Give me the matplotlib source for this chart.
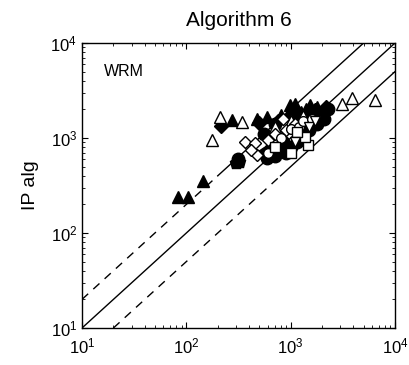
import numpy as np
import matplotlib
matplotlib.use("Agg")
import matplotlib.pyplot as plt
from matplotlib.ticker import LogLocator, FuncFormatter

plt.rcParams['font.family'] = ['Liberation Sans', 'DejaVu Sans']
plt.rcParams['mathtext.fontset'] = 'custom'
plt.rcParams['mathtext.rm'] = 'Liberation Sans'

title = "Algorithm 6"
panel_label = "WRM"
y_label = "IP alg"
axis_limits = (10, 1e4)

# reference lines y = k * x
line_factors = [2.0, 1.0, 0.5]

# (x, y) pairs per marker group
tri_filled_x = [83, 104, 145, 274, 476, 594, 800, 987, 1535, 1800, 1250, 1100, 1400]
tri_filled_y = [239, 239, 350, 1550, 1600, 1650, 1750, 2200, 2200, 2100, 1900, 2300, 2000]
tri_open_x = [176, 210, 342, 3100, 3900, 6400, 700, 1000, 1300]
tri_open_y = [950, 1650, 1480, 2280, 2640, 2500, 1300, 1500, 1700]
dia_filled_x = [215, 760, 1200, 1700, 2200, 500, 1000]
dia_filled_y = [1350, 1500, 1800, 1950, 2100, 1450, 1650]
dia_open_x = [366, 456, 476, 420, 700, 900, 1100, 850, 600]
dia_open_y = [900, 880, 660, 750, 1100, 1200, 1400, 1600, 950]
circ_filled_x = [313, 594, 1151, 2046, 1800, 900, 1300, 2300, 700, 1500,
                 1000, 1200, 1600, 700, 850, 1000, 1800, 560, 2100]
circ_filled_y = [600, 620, 900, 1880, 1400, 700, 1000, 2000, 650, 1200,
                 1700, 1500, 1700, 1400, 900, 800, 1700, 1100, 1600]
sq_filled_x = [300, 320, 650, 560]
sq_filled_y = [540, 560, 780, 700]
circ_open_x = [1000, 1200, 800, 600, 1300, 1600]
circ_open_y = [1250, 1300, 1000, 700, 1500, 1600]
sq_open_x = [1468, 1374, 1000, 700, 1150]
sq_open_y = [844, 1025, 700, 800, 1150]
tri_down_open_x = [1500, 1100, 1700]
tri_down_open_y = [1300, 900, 1500]

fig = plt.figure(figsize=(4.09, 3.65), dpi=100)
ax = fig.add_axes([0.2005, 0.1014, 0.7653, 0.7808])
ax.set_xscale('log')
ax.set_yscale('log')
ax.set_xlim(*axis_limits)
ax.set_ylim(*axis_limits)

xs = np.array(axis_limits)
# diagonal y = x solid, the factor-of-two lines dashed near the origin
ax.plot(xs, xs * line_factors[1], color='black', lw=1.0, zorder=1)
ax.plot([10, 200], [10 * line_factors[0], 200 * line_factors[0]],
        color='black', lw=1.0, ls=(0, (6, 5)), zorder=1)
ax.plot([200, 1e4 / line_factors[0]], [200 * line_factors[0], 1e4],
        color='black', lw=1.0, zorder=1)
ax.plot([10 / line_factors[2], 800], [10, 800 * line_factors[2]],
        color='black', lw=1.0, ls=(0, (6, 5)), zorder=1)
ax.plot([800, 1e4], [800 * line_factors[2], 1e4 * line_factors[2]],
        color='black', lw=1.0, zorder=1)

ms = 9
kw = dict(ls='none', markersize=ms, markeredgecolor='black', markeredgewidth=1.0, zorder=3)
ax.plot(circ_filled_x, circ_filled_y, marker='o', markerfacecolor='black', **kw)
ax.plot(sq_filled_x, sq_filled_y, marker='p', markerfacecolor='black', **kw)
ax.plot(dia_filled_x, dia_filled_y, marker='D', markerfacecolor='black', markersize=7,
        ls='none', markeredgecolor='black', zorder=3)
ax.plot(tri_filled_x, tri_filled_y, marker='^', markerfacecolor='black', **kw)
ax.plot(dia_open_x, dia_open_y, marker='D', markerfacecolor='white', markersize=6.5,
        ls='none', markeredgecolor='black', zorder=4)
ax.plot(circ_open_x, circ_open_y, marker='o', markerfacecolor='white', markersize=7,
        ls='none', markeredgecolor='black', zorder=4)
ax.plot(sq_open_x, sq_open_y, marker='s', markerfacecolor='white', markersize=7,
        ls='none', markeredgecolor='black', zorder=4)
ax.plot(tri_down_open_x, tri_down_open_y, marker='v', markerfacecolor='white', markersize=7,
        ls='none', markeredgecolor='black', zorder=4)
ax.plot(tri_open_x, tri_open_y, marker='^', markerfacecolor='white', **kw)

ax.xaxis.set_major_locator(LogLocator(base=10, numticks=10))
ax.yaxis.set_major_locator(LogLocator(base=10, numticks=10))
ax.xaxis.set_minor_locator(LogLocator(base=10, subs=np.arange(2, 10), numticks=10))
ax.yaxis.set_minor_locator(LogLocator(base=10, subs=np.arange(2, 10), numticks=10))
fmt = FuncFormatter(lambda v, p: r'$\mathregular{10^{%d}}$' % int(round(np.log10(v))))
ax.xaxis.set_major_formatter(fmt)
ax.yaxis.set_major_formatter(fmt)
ax.tick_params(which='both', direction='in', top=True, right=True, labelsize=12)
ax.tick_params(which='major', length=4, width=0.8)
ax.tick_params(which='minor', length=2, width=0.6)
ax.tick_params(axis='x', pad=6)
for s in ax.spines.values():
    s.set_linewidth(1.0)

ax.set_title(title, fontsize=15, pad=12)
ax.set_ylabel(y_label, fontsize=14, labelpad=8)
ax.text(0.07, 0.9, panel_label, transform=ax.transAxes, fontsize=11.5, va='center')

fig.savefig('out.png', dpi=100)
